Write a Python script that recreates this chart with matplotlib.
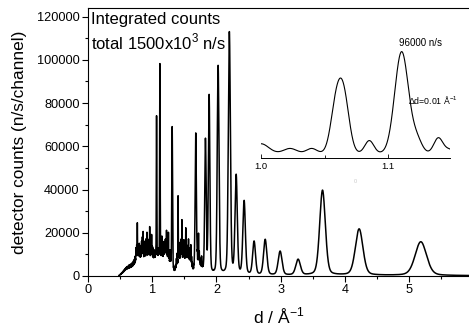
import numpy as np
import matplotlib
matplotlib.use("Agg")
import matplotlib.pyplot as plt
from matplotlib.ticker import MultipleLocator

plt.rcParams['font.family'] = ['Liberation Sans', 'DejaVu Sans']
plt.rcParams['mathtext.fontset'] = 'custom'
plt.rcParams['mathtext.rm'] = 'Liberation Sans'

# ---------------- data ----------------
# main Bragg peaks: position d, height (n/s/channel)
peak_d = [1.067, 1.119, 1.310, 1.677, 1.828, 1.885, 2.025, 2.200, 2.306,
          2.430, 2.585, 2.758, 2.990, 3.270, 3.650, 4.220, 5.180]
peak_h = [69000, 94000, 68000, 65000, 62000, 82500, 96500, 112000, 45500,
          34000, 15400, 16400, 11000, 7200, 39300, 21400, 15600]

# dense small peaks in the 0.5 - 1.95 region
small_d = [0.500, 0.506, 0.512, 0.518, 0.524, 0.530, 0.536, 0.542, 0.548, 0.554,
           0.560, 0.566, 0.572, 0.578, 0.584, 0.590, 0.596, 0.602, 0.608, 0.614,
           0.620, 0.626, 0.632, 0.638, 0.644, 0.650, 0.656, 0.662, 0.668, 0.674,
           0.680, 0.686, 0.692, 0.698, 0.704, 0.710, 0.716, 0.722, 0.728, 0.734,
           0.740, 0.746, 0.752, 0.758, 0.764, 0.768, 0.774, 0.780, 0.786, 0.792,
           0.798, 0.804, 0.810, 0.816, 0.822, 0.828, 0.834, 0.840, 0.846, 0.852,
           0.858, 0.864, 0.870, 0.876, 0.882, 0.888, 0.894, 0.900, 0.906, 0.912,
           0.918, 0.924, 0.930, 0.936, 0.942, 0.948, 0.954, 0.960, 0.966, 0.972,
           0.978, 0.984, 0.990, 0.996, 1.002, 1.008, 1.014, 1.020, 1.026, 1.032,
           1.038, 1.044, 1.050, 1.056, 1.080, 1.086, 1.092, 1.098, 1.104, 1.132,
           1.138, 1.144, 1.150, 1.156, 1.162, 1.168, 1.174, 1.180, 1.186, 1.192,
           1.198, 1.204, 1.210, 1.216, 1.222, 1.228, 1.234, 1.240, 1.246, 1.252,
           1.258, 1.264, 1.270, 1.276, 1.282, 1.288, 1.294, 1.300, 1.322, 1.328,
           1.334, 1.340, 1.346, 1.352, 1.358, 1.364, 1.370, 1.376, 1.382, 1.388,
           1.394, 1.402, 1.408, 1.414, 1.420, 1.426, 1.432, 1.438, 1.444, 1.450,
           1.456, 1.462, 1.468, 1.474, 1.480, 1.486, 1.492, 1.498, 1.504, 1.510,
           1.516, 1.522, 1.528, 1.534, 1.540, 1.546, 1.552, 1.558, 1.564, 1.570,
           1.576, 1.582, 1.588, 1.594, 1.600, 1.606, 1.612, 1.618, 1.624, 1.630,
           1.636, 1.642, 1.648, 1.654, 1.660, 1.696, 1.702, 1.708, 1.714, 1.720,
           1.726, 1.732, 1.738, 1.744, 1.750, 1.756, 1.762, 1.768, 1.774, 1.780,
           1.786, 1.792, 1.798, 1.804, 1.810, 1.845, 1.860, 1.950]
small_h = [300, 500, 400, 700, 600, 900, 700, 1100, 800, 1300,
           1000, 1500, 1200, 1700, 1300, 1900, 1500, 2200, 1600, 2000,
           1500, 2400, 1800, 2800, 2000, 2600, 2100, 3200, 2300, 3000,
           2500, 3600, 2600, 3800, 2800, 4200, 3000, 4500, 3200, 5500,
           4000, 9000, 7000, 10000, 6000, 19000, 8000, 6000, 9000, 5000,
           10000, 6000, 8000, 4000, 9000, 5000, 11000, 7000, 13000, 6000,
           15500, 7000, 5000, 9000, 6000, 11000, 5000, 8000, 12000, 7000,
           15000, 8000, 6000, 10000, 7000, 12000, 8000, 18000, 9000, 6000,
           11000, 8000, 14500, 7000, 9000, 5000, 8000, 4000, 7000, 4000,
           6000, 3500, 5000, 4000, 4000, 6000, 5000, 7000, 4500, 6000,
           4000, 9000, 13000, 6000, 8000, 4000, 7000, 10000, 5000, 8000,
           6000, 11000, 7000, 9000, 15500, 6000, 8000, 5000, 10000, 16000,
           6000, 8000, 4000, 9000, 5000, 7000, 3000, 4000, 2000, 1200,
           2500, 1000, 1800, 1500, 2500, 3500, 2800, 6000, 4000, 8000,
           5000, 34000, 8000, 12000, 6000, 9000, 5000, 11000, 7000, 13000,
           8000, 22000, 9000, 6000, 11000, 7000, 13000, 6000, 9000, 5000,
           12000, 18000, 7000, 10000, 5000, 8000, 6000, 9000, 13000, 6000,
           8000, 5000, 10000, 7000, 12000, 6000, 7000, 3500, 4500, 2000,
           2500, 1500, 2000, 1500, 2500, 4000, 6000, 3500, 9000, 16000,
           6000, 8000, 4000, 5000, 2500, 3500, 2000, 6500, 3000, 2000,
           2500, 1500, 2000, 1200, 1500, 1000, 800, 400]
small_fwhm = 0.0048

# broad background humps: centre, height, sigma
bg_d = [0.62, 0.78, 0.92, 1.06, 1.20, 1.44, 1.55, 1.73, 3.50]
bg_h = [2000, 4000, 4500, 4000, 5500, 3500, 3500, 2000, 300]
bg_s = [0.06, 0.06, 0.07, 0.05, 0.055, 0.05, 0.04, 0.035, 2.0]

resolution = 0.0078       # Bragg-peak FWHM = resolution * d^2
d_start, d_end = 0.48, 5.93

# inset (1.00 - 1.15)
inset_base = 14000
ins_d = [1.000, 1.0228, 1.0398, 1.0590, 1.0652, 1.0851, 1.1105, 1.1225, 1.1393, 1.148]
ins_h = [7500, 3800, 3800, 36700, 41000, 10000, 80000, 10000, 12000, 3000]
ins_s = [0.0060, 0.0050, 0.0040, 0.0042, 0.0042, 0.0035, 0.0054, 0.0040, 0.0035, 0.004]


def pv(x, c, h, fwhm, eta=0.3):
    s = fwhm / 2.3548
    g = np.exp(-0.5 * ((x - c) / s) ** 2)
    l = 1.0 / (1.0 + ((x - c) / (fwhm / 2)) ** 2)
    return h * ((1 - eta) * g + eta * l)


x = np.linspace(d_start, d_end, 40000)
y = np.zeros_like(x)
for c, h, s in zip(bg_d, bg_h, bg_s):
    y += h * np.exp(-0.5 * ((x - c) / s) ** 2)
for c, h in zip(small_d, small_h):
    y += pv(x, c, h, small_fwhm, eta=0.0)
for c, h in zip(peak_d, peak_h):
    y += pv(x, c, h, resolution * c ** 2, eta=0.25)

xi = np.linspace(1.0, 1.1485, 3000)
yi = np.full_like(xi, float(inset_base))
for c, h, s in zip(ins_d, ins_h, ins_s):
    yi += h * np.exp(-0.5 * ((xi - c) / s) ** 2)

# ---------------- figure ----------------
W, H = 469, 329
fig = plt.figure(figsize=(W / 100, H / 100), dpi=100)
ax = fig.add_axes([88 / W, 1 - 276 / H, 1 - 88 / W, (276 - 8) / H])
ax.plot(x, y, color='black', lw=1.1)
ax.set_xlim(0, d_end)
ax.set_ylim(0, 124000)
ax.spines['right'].set_visible(False)
ax.xaxis.set_major_locator(MultipleLocator(1))
ax.xaxis.set_minor_locator(MultipleLocator(0.5))
ax.yaxis.set_major_locator(MultipleLocator(20000))
ax.yaxis.set_minor_locator(MultipleLocator(10000))
ax.tick_params(which='major', direction='out', length=4, width=0.8, labelsize=9.2, pad=2)
ax.tick_params(which='minor', direction='out', length=2.5, width=0.8)
ax.tick_params(axis='y', which='both', right=False)
ax.tick_params(axis='x', which='both', top=False)
ax.set_xlabel('d / Å$^{-1}$', fontsize=12.6, labelpad=7)
ax.set_ylabel('detector counts (n/s/channel)', fontsize=12.4, labelpad=7)

fig.text(91 / W, 1 - 24 / H, 'Integrated counts', fontsize=12, va='baseline', ha='left')
fig.text(91 / W, 1 - 49 / H, 'total 1500x10$^{3}$ n/s', fontsize=12, va='baseline', ha='left')

# inset
axi = fig.add_axes([261 / W, 1 - 158 / H, (450 - 261) / W, (158 - 20) / H])
axi.patch.set_alpha(0)
axi.plot(xi, yi, color='black', lw=0.8)
axi.set_xlim(1.0, 1.1485)
axi.set_ylim(10260, 119000)
for sp in ['top', 'right', 'left']:
    axi.spines[sp].set_visible(False)
axi.spines['bottom'].set_linewidth(0.7)
axi.set_yticks([])
axi.set_xticks([1.0, 1.1])
axi.set_xticklabels(['1.0', '1.1'])
axi.xaxis.set_minor_locator(MultipleLocator(0.05))
axi.tick_params(axis='x', which='major', direction='in', length=3, width=0.6, labelsize=6.8, pad=3)
axi.tick_params(axis='x', which='minor', direction='in', length=2, width=0.6)
axi.text(1.125, 101000, '96000 n/s', fontsize=7, ha='center', va='center')
axi.text(1.1153, 56000, 'Δd=0.01 Å$^{-1}$', fontsize=6.3, ha='left', va='center')

fig.text(355 / W, 1 - 181 / H, '0', fontsize=4, color='#c8c8c8', ha='center', va='center')

fig.savefig('out.png', dpi=100)
